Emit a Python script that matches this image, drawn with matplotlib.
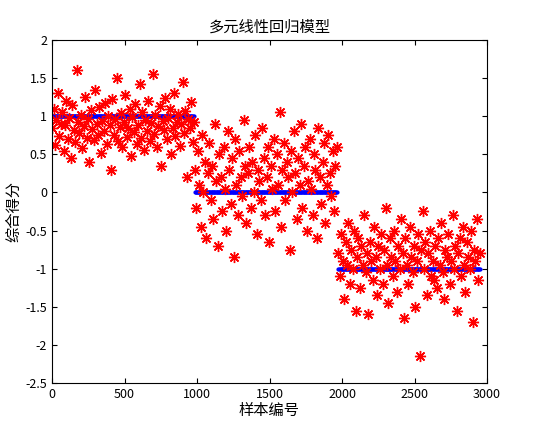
import numpy as np
import matplotlib.pyplot as plt
from matplotlib.ticker import FormatStrFormatter

plt.rcParams['font.family'] = ['Noto Sans CJK SC', 'DejaVu Sans']

g1 = [0.85,1.1,0.62,0.95,1.3,0.74,0.9,1.05,0.55,0.88,
      1.2,0.7,0.98,0.45,1.15,0.82,0.66,1.6,0.93,0.78,
      1.02,0.58,0.87,1.25,0.71,0.96,0.4,1.08,0.83,0.69,
      1.35,0.9,0.76,1.12,0.52,0.94,0.81,1.18,0.64,1.0,
      0.88,0.3,1.22,0.75,0.97,1.5,0.67,0.86,1.04,0.59,
      0.92,1.28,0.73,0.84,1.1,0.48,0.99,0.79,1.16,0.63,
      0.89,1.42,0.72,1.06,0.56,0.95,0.8,1.2,0.68,0.91,
      1.55,0.77,1.01,0.6,0.87,1.14,0.35,0.94,0.82,1.24,
      0.7,0.98,1.09,0.5,0.85,1.3,0.74,0.93,1.03,0.61,
      0.9,1.45,0.78,1.07,0.2,0.96,0.84,1.19,0.66,0.92]
g2 = [0.3,-0.2,0.55,0.1,-0.45,0.75,0.0,0.4,-0.6,0.25,
      0.65,-0.1,0.35,-0.35,0.9,0.15,-0.7,0.5,0.2,-0.25,
      0.6,0.05,-0.5,0.8,0.3,-0.15,0.45,-0.85,0.7,0.1,
      -0.3,0.55,0.2,-0.05,0.95,0.35,-0.4,0.25,0.6,-0.2,
      0.4,0.0,0.75,-0.55,0.3,0.15,-0.1,0.85,0.45,-0.3,
      0.2,0.6,-0.65,0.35,0.05,0.7,-0.25,0.5,0.1,1.05,
      -0.45,0.3,0.65,-0.1,0.4,0.2,-0.75,0.55,0.0,0.8,
      0.25,-0.35,0.45,0.1,0.9,-0.2,0.35,0.6,-0.5,0.15,
      0.7,0.05,-0.3,0.5,0.3,-0.6,0.85,0.2,-0.15,0.4,
      0.65,-0.4,0.1,0.75,0.25,-0.05,0.55,-0.25,0.35,0.6]
g3 = [-0.8,-1.1,-0.55,-0.9,-1.4,-0.65,-0.95,-0.4,-1.2,-0.75,
      -1.0,-0.5,-1.55,-0.85,-0.6,-1.25,-0.7,-0.95,-0.3,-1.05,
      -0.8,-1.6,-0.65,-0.9,-1.15,-0.45,-0.85,-1.35,-0.7,-1.0,
      -0.55,-1.2,-0.75,-0.2,-0.95,-1.45,-0.6,-0.85,-1.1,-0.5,
      -0.9,-1.3,-0.7,-1.0,-0.35,-0.8,-1.65,-0.6,-0.95,-1.2,
      -0.45,-0.85,-1.05,-0.7,-1.5,-0.9,-0.55,-2.15,-0.75,-0.25,
      -1.0,-0.65,-1.35,-0.8,-0.5,-1.1,-0.9,-1.15,-0.7,-1.25,
      -0.6,-0.95,-0.4,-1.05,-1.4,-0.75,-0.85,-0.55,-1.2,-0.9,
      -0.3,-1.0,-0.7,-1.55,-0.8,-0.6,-1.1,-0.45,-0.95,-1.3,
      -0.65,-0.85,-1.0,-0.5,-1.7,-0.75,-0.9,-0.35,-1.15,-0.8]
labels = [1, 0, -1]
block_start = [1, 985, 1975]
block_end = [980, 1965, 2950]

fig = plt.figure(figsize=(5.39, 4.29), dpi=100)
ax = fig.add_axes([52/539, 46/429, 435/539, 343/429])

for g, lab, s, e in zip([g1, g2, g3], labels, block_start, block_end):
    x = np.linspace(s, e, len(g))
    xb = np.arange(s, e + 1, 5)
    ax.plot(xb, np.full(len(xb), lab), '.', color='blue', ms=4)
    ax.plot(x, g, ls='none', marker=(8, 2, 0), color='red', ms=8, mew=1)

ax.set_xlim(0, 3000)
ax.set_ylim(-2.5, 2)
ax.set_xticks(np.arange(0, 3001, 500))
ax.set_yticks(np.arange(-2.5, 2.01, 0.5))
ax.yaxis.set_major_formatter(FormatStrFormatter('%g'))
ax.tick_params(direction='in', top=True, right=True, labelsize=9)
ax.set_title('多元线性回归模型', fontsize=11)
ax.set_xlabel('样本编号', fontsize=11, labelpad=1)
ax.set_ylabel('综合得分', fontsize=11, labelpad=2)

fig.savefig('out.png', dpi=100)
